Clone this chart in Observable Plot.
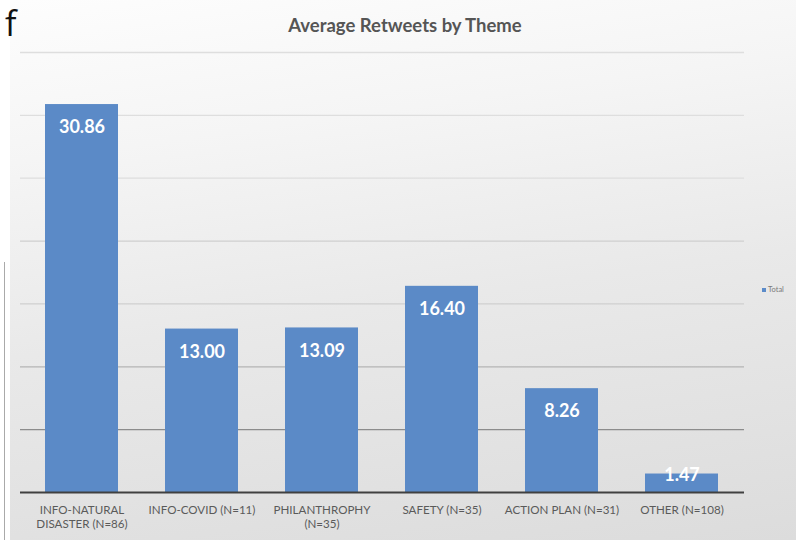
<!DOCTYPE html>
<html><head><meta charset="utf-8">
<script src="https://cdn.jsdelivr.net/npm/d3@7"></script>
<script src="https://cdn.jsdelivr.net/npm/@observablehq/plot@0.6"></script>
<style>
html,body{margin:0;padding:0;}
body{width:796px;height:540px;position:relative;overflow:hidden;background:#fff;font-family:Lato,"Open Sans",sans-serif;}
#bg{position:absolute;left:10px;top:0;width:786px;height:540px;
  background:linear-gradient(172deg,#fdfdfd 0%,#f5f5f5 25%,#e9e9e9 55%,#dcdcdc 100%);}
#chart{position:absolute;left:0;top:0;}
#title{position:absolute;left:0;width:810px;top:14px;text-align:center;font-weight:bold;font-size:18.5px;color:#555;}
#legend{position:absolute;left:762px;top:285px;font-size:7.5px;color:#7a7a7a;white-space:nowrap;}
#legend span{display:inline-block;width:4px;height:4px;background:#5b8bc9;margin-right:2px;vertical-align:middle;}
#frag{position:absolute;left:5px;top:2px;font-family:"Open Sans",sans-serif;font-size:34px;line-height:42px;color:#111;}
#vline{position:absolute;left:4px;top:262px;width:1px;height:278px;background:#aaa;}
</style>
</head>
<body>
<div id="bg"></div>
<div id="frag">f</div>
<div id="vline"></div>
<div id="chart"></div>
<div id="title">Average Retweets by Theme</div>
<div id="legend"><span></span>Total</div>
<script>
const themes = ["INFO-NATURAL DISASTER (N=86)", "INFO-COVID (N=11)", "PHILANTHROPHY (N=35)", "SAFETY (N=35)", "ACTION PLAN (N=31)", "OTHER (N=108)"];
const tickLabels = ["INFO-NATURAL\nDISASTER (N=86)", "INFO-COVID (N=11)", "PHILANTHROPHY\n(N=35)", "SAFETY (N=35)", "ACTION PLAN (N=31)", "OTHER (N=108)"];
const avgRetweets = [30.86, 13.00, 13.09, 16.40, 8.26, 1.47];
const gridTicks = [5, 10, 15, 20, 25, 30, 35];

const data = themes.map((t, i) => ({theme: t, value: avgRetweets[i]}));
const gridColor = d => d <= 5 ? "#8c8c8c" : d <= 10 ? "#b4b4b4" : d <= 20 ? "#cfcfcf" : "#dedede";

const chart = Plot.plot({
  width: 796, height: 540,
  marginLeft: 20, marginRight: 52, marginTop: 52, marginBottom: 48,
  style: {background: "transparent", fontFamily: "Lato, 'Open Sans', sans-serif"},
  x: {domain: themes, paddingInner: 0.39, paddingOuter: 0.195, label: null},
  y: {domain: [0, 35], axis: null},
  marks: [
    Plot.ruleY(gridTicks, {stroke: gridColor, strokeWidth: 1.3}),
    Plot.barY(data, {x: "theme", y: "value", fill: "#5b8ac7"}),
    Plot.ruleY([0], {stroke: "#404040", strokeWidth: 2}),
    Plot.text(data.filter(d => d.value >= 3), {x: "theme", y: "value", text: d => d.value.toFixed(2), dy: 23, fill: "white", fontWeight: "bold", fontSize: 18}),
    Plot.text(data.filter(d => d.value < 3), {x: "theme", y: "value", text: d => d.value.toFixed(2), dy: 1, fill: "white", fontWeight: "bold", fontSize: 18}),
    Plot.axisX({tickSize: 0, tickPadding: 11, fontSize: 11.6, lineHeight: 1.25, fill: "#5a5a5a", label: null,
      tickFormat: d => tickLabels[themes.indexOf(d)]})
  ]
});
document.getElementById("chart").appendChild(chart);
</script>
</body></html>
